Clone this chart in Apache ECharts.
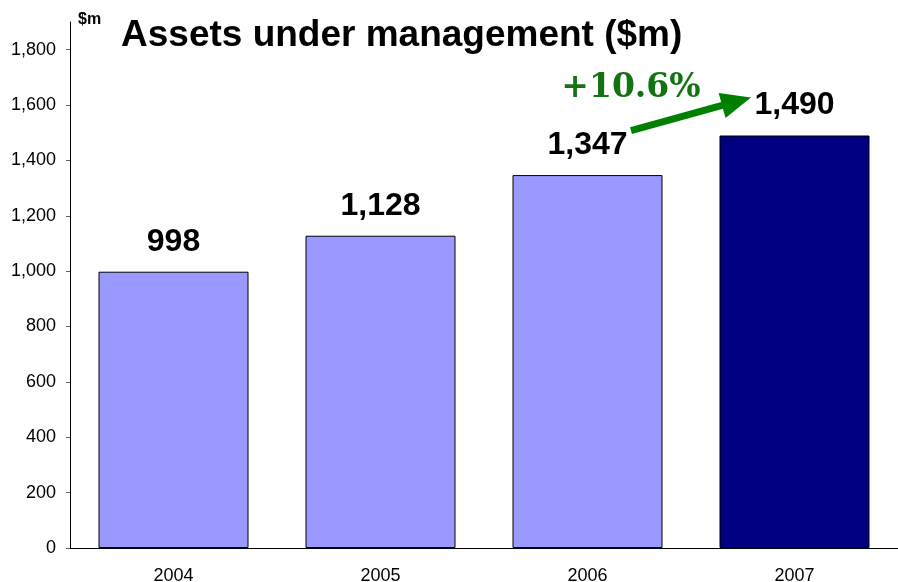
<!DOCTYPE html>
<html>
<head>
<meta charset="utf-8">
<script src="https://cdn.jsdelivr.net/npm/echarts@6/dist/echarts.min.js"></script>
<style>
  html, body { margin: 0; padding: 0; background: #fff; }
  #main { width: 898px; height: 582px; }
</style>
</head>
<body>
<div id="main"></div>
<script>
// data
var years = ['2004', '2005', '2006', '2007'];
var aum = [998, 1128, 1347, 1490];
var barColors = ['#9999ff', '#9999ff', '#9999ff', '#000080'];
var yTicks = [0, 200, 400, 600, 800, 1000, 1200, 1400, 1600, 1800];
// arrow ends: [category position, value]
var arrowFrom = [2.21, 1508];
var arrowTo = [2.72, 1613];

var growth = '+' + ((aum[3] - aum[2]) / aum[2] * 100).toFixed(1) + '%';

var myChart = echarts.init(document.getElementById('main'));

var barData = [];
for (var i = 0; i < aum.length; i++) {
    barData.push({ value: aum[i], itemStyle: { color: barColors[i] } });
}

myChart.setOption({
    animation: false,
    textStyle: { fontFamily: 'Arial, "Liberation Sans", sans-serif' },
    title: {
        text: 'Assets under management ($m)',
        left: 116,
        top: 12,
        textStyle: { fontSize: 37, fontWeight: 'bold', color: '#000' }
    },
    grid: { left: 70, right: 0, top: 22, bottom: 34, containLabel: false, outerBoundsMode: 'none' },
    xAxis: {
        type: 'category',
        data: years,
        axisLine: { lineStyle: { color: '#000', width: 1 } },
        axisTick: { length: 4, lineStyle: { color: '#666' } },
        axisLabel: { fontSize: 18, color: '#000', margin: 19 }
    },
    yAxis: {
        type: 'value',
        min: 0,
        max: 1900,
        interval: 200,
        splitLine: { show: false },
        axisLine: { show: true, lineStyle: { color: '#000', width: 1 } },
        axisTick: { show: true, length: 4, lineStyle: { color: '#666' }, customValues: yTicks },
        axisLabel: { fontSize: 18, color: '#000', margin: 14, customValues: yTicks,
            formatter: function (v) { return echarts.format.addCommas(v); } }
    },
    series: [{
        type: 'bar',
        data: barData,
        barWidth: 150,
        itemStyle: { borderColor: '#000', borderWidth: 1 },
        label: {
            show: true,
            position: 'top',
            distance: 14,
            fontSize: 32,
            fontWeight: 'bold',
            color: '#000',
            formatter: function (p) { return echarts.format.addCommas(p.value); }
        }
    }]
});

// arrow + growth text, placed from the axis scale
var p0 = myChart.convertToPixel({ gridIndex: 0 }, [0, 0]);
var p1 = myChart.convertToPixel({ gridIndex: 0 }, [1, 0]);
var band = p1[0] - p0[0];
function toPx(pt) {
    var y = myChart.convertToPixel({ yAxisIndex: 0 }, pt[1]);
    return [p0[0] + pt[0] * band, y];
}
var a = toPx(arrowFrom);
var b = toPx(arrowTo);

myChart.setOption({
    series: [{
        markLine: {
            silent: true,
            symbol: ['none', 'triangle'],
            symbolSize: [26, 30],
            label: { show: false },
            lineStyle: { color: '#008000', width: 7, type: 'solid' },
            data: [[{ x: a[0], y: a[1] }, { x: b[0], y: b[1] }]]
        }
    }],
    graphic: [
        {
            type: 'text',
            left: 78,
            top: 12,
            style: { text: '$m', font: 'bold 16px Arial, "Liberation Sans", sans-serif', fill: '#000' }
        },
        {
            type: 'text',
            x: a[0],
            y: a[1] - 42,
            style: {
                text: growth,
                font: 'bold 33px "DejaVu Serif", serif',
                fill: '#137313',
                align: 'center',
                verticalAlign: 'middle'
            }
        }
    ]
});
</script>
</body>
</html>
